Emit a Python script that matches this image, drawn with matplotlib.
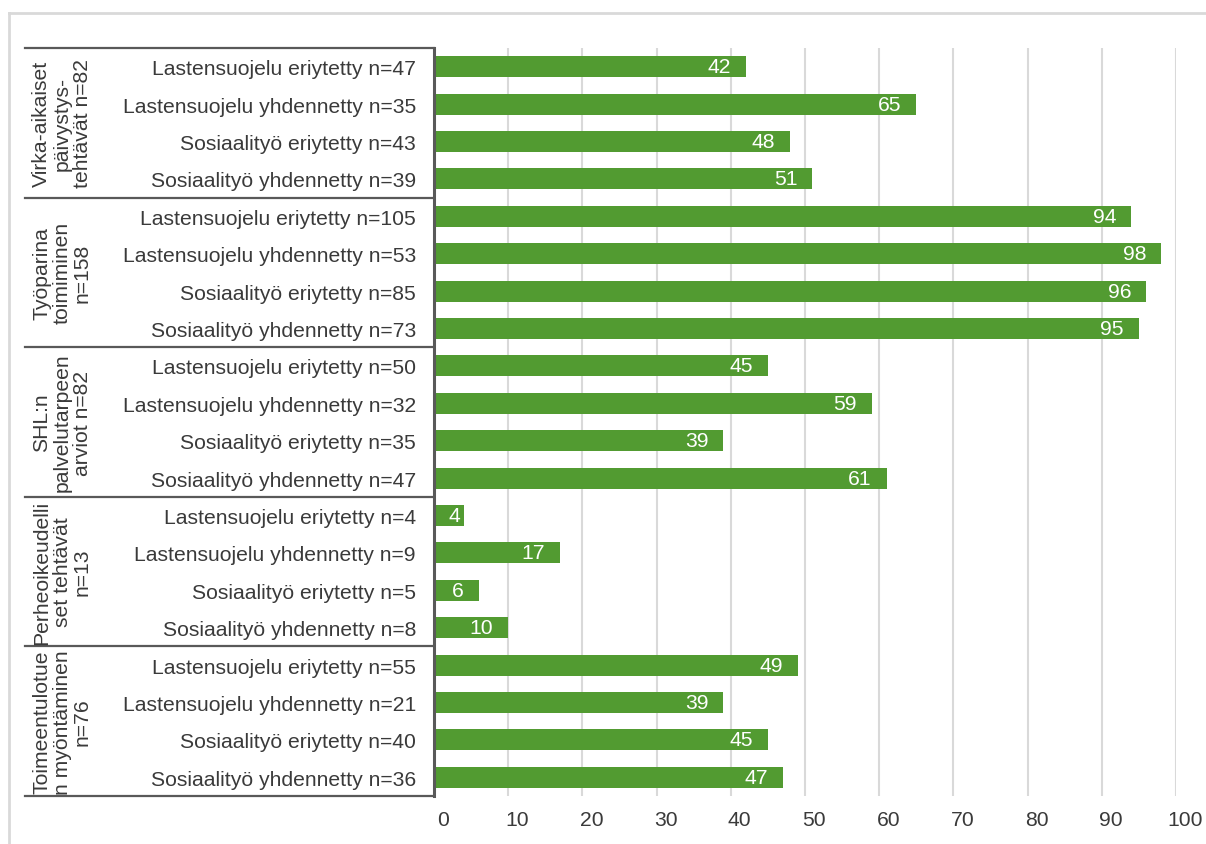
import matplotlib.pyplot as plt
import matplotlib.transforms as mtransforms
from matplotlib.lines import Line2D

plt.rcParams["font.family"] = ["Liberation Sans", "DejaVu Sans"]

# tehtäväryhmät (kiertyvä otsikko vasemmalla)
groups = [
    "Virka-aikaiset\npäivystys-\ntehtävät n=82",
    "Työparina\ntoimiminen\nn=158",
    "SHL:n\npalvelutarpeen\narviot n=82",
    "Perheoikeudelli\nset tehtävät\nn=13",
    "Toimeentulotue\nn myöntäminen\nn=76",
]
categories = [
    "Lastensuojelu eriytetty",
    "Lastensuojelu yhdennetty",
    "Sosiaalityö eriytetty",
    "Sosiaalityö yhdennetty",
]
n_values = [
    [47, 35, 43, 39],
    [105, 53, 85, 73],
    [50, 32, 35, 47],
    [4, 9, 5, 8],
    [55, 21, 40, 36],
]
percents = [
    [42, 65, 48, 51],
    [94, 98, 96, 95],
    [45, 59, 39, 61],
    [4, 17, 6, 10],
    [49, 39, 45, 47],
]

labels = []
values = []
for g in range(len(groups)):
    for c in range(len(categories)):
        labels.append(f"{categories[c]} n={n_values[g][c]}")
        values.append(percents[g][c])
y = list(range(len(values)))

green = "#529B31"
text_col = "#3A3A3A"
line_col = "#595959"
fs = 15.2

fig = plt.figure(figsize=(12.06, 8.45), dpi=100)

# ulkokehys
fig.add_artist(Line2D([9 / 1206, 1], [1 - 14 / 845] * 2, transform=fig.transFigure,
                      color="#D9D9D9", lw=2))
fig.add_artist(Line2D([9 / 1206] * 2, [0, 1 - 14 / 845], transform=fig.transFigure,
                      color="#D9D9D9", lw=2))

ax = fig.add_axes([434 / 1206, 1 - 797 / 845, (1176 - 434) / 1206, (797 - 49) / 845])
ax.barh(y, values, height=0.56, color=green, zorder=2)

# arvot palkin sisään; lyhyissä palkeissa alkuun
for yi, v in zip(y, values):
    if v < 6:
        ax.annotate(str(v), xy=(0, yi), xytext=(14, 0), textcoords="offset pixels",
                    ha="left", va="center", color="white", fontsize=fs, zorder=3)
    else:
        ax.annotate(str(v), xy=(v, yi), xytext=(-15, 0), textcoords="offset pixels",
                    ha="right", va="center", color="white", fontsize=fs, zorder=3)

ax.set_xlim(0, 100)
ax.set_ylim(len(values) - 0.5, -0.5)
ax.set_xticks(range(0, 101, 10))
ax.set_yticks(y)
ax.set_yticklabels(labels)
ax.grid(axis="x", color="#D9D9D9", lw=1.5)
ax.set_axisbelow(True)
ax.tick_params(axis="x", length=0, pad=10, labelsize=fs, labelcolor=text_col)
ax.tick_params(axis="y", length=0, pad=13, labelsize=fs, labelcolor=text_col)
shift = mtransforms.ScaledTranslation(9 / 100, 0, fig.dpi_scale_trans)
for lbl in ax.get_xticklabels():
    lbl.set_transform(lbl.get_transform() + shift)
for s in ["top", "right", "bottom"]:
    ax.spines[s].set_visible(False)
ax.spines["left"].set_color(line_col)
ax.spines["left"].set_linewidth(2.2)

# ryhmien rajaviivat ja otsikot
trans = mtransforms.blended_transform_factory(ax.transAxes, ax.transData)
x_left = (25 - 434) / 742
x_grp = (62 - 434) / 742
for g in range(len(groups) + 1):
    b = g * 4 - 0.5
    ax.plot([x_left, 0], [b, b], transform=trans, clip_on=False, color=line_col, lw=1.6)
for g, name in enumerate(groups):
    ax.text(x_grp, g * 4 + 1.5, name, transform=trans, rotation=90, ha="center",
            va="center", multialignment="center", fontsize=fs, color=text_col,
            linespacing=1.1)

fig.savefig("out.png", dpi=100)
